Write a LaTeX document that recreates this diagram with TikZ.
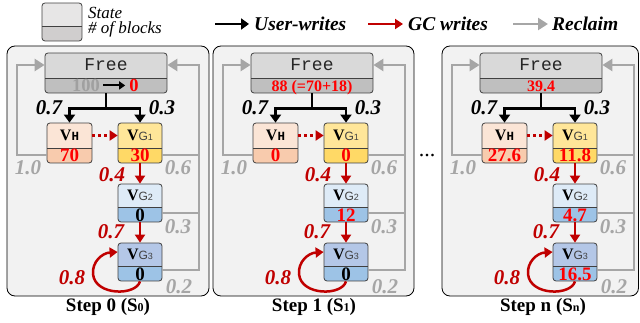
\documentclass[tikz,border=0pt]{standalone}
\usepackage{fontspec}
\setmainfont{Liberation Serif}
\newfontfamily\monof{Liberation Mono}
\newfontfamily\sansf{Liberation Sans}
\usetikzlibrary{arrows.meta}
\definecolor{panelfill}{HTML}{F2F2F2}
\definecolor{boxline}{HTML}{404040}
\definecolor{freeT}{HTML}{D9D9D9}
\definecolor{freeB}{HTML}{BFBFBF}
\definecolor{vhT}{HTML}{FBE5D6}
\definecolor{vhB}{HTML}{F8CBAD}
\definecolor{gaT}{HTML}{FFE699}
\definecolor{gaB}{HTML}{FFD966}
\definecolor{gbT}{HTML}{DEEBF7}
\definecolor{gbB}{HTML}{9DC3E6}
\definecolor{gcT}{HTML}{B4C7E7}
\definecolor{gcB}{HTML}{9DC3E6}
\definecolor{legT}{HTML}{E7E6E6}
\definecolor{legB}{HTML}{D0CECE}
\definecolor{gcred}{HTML}{C00000}
\definecolor{numred}{HTML}{FF0000}
\definecolor{rgray}{HTML}{A6A6A6}
\definecolor{numgray}{HTML}{A0A0A0}
\definecolor{subgray}{HTML}{404040}
\definecolor{freetext}{HTML}{262626}
\newcommand\rd[1]{\textcolor{numred}{#1}}
\newcommand\fs[1]{\fontsize{#1}{#1}\selectfont}
\tikzset{
 bk/.style 2 args={draw=boxline, line width=0.8pt, rounded corners=3pt, inner sep=0pt,
   path picture={
   \fill[#1, sharp corners] (path picture bounding box.south west) rectangle (path picture bounding box.north east);
   \fill[#2, sharp corners] (path picture bounding box.south west) rectangle ([yshift=15pt]path picture bounding box.south east);
   \draw[boxline, line width=0.8pt, sharp corners] ([yshift=15pt]path picture bounding box.south west) -- ([yshift=15pt]path picture bounding box.south east);}},
 panel/.style={draw=black, line width=0.8pt, fill=panelfill, rounded corners=8pt, inner sep=0pt},
 freetxt/.style={font=\monof\fs{18}, text=freetext, inner sep=0pt, anchor=base},
 fnum/.style={font=\bfseries\fs{16}, text=numred, inner sep=0pt, anchor=base},
 num/.style={font=\bfseries\fs{19}, inner sep=0pt, anchor=base},
 vlab/.style={font=\bfseries\fs{16}, inner sep=0pt, anchor=base},
 lbl/.style={font=\bfseries\itshape\fs{21}, inner sep=0pt},
 steplab/.style={font=\bfseries\fs{19}, inner sep=0pt},
 legtxt/.style={font=\itshape\fs{17}, inner sep=0pt, anchor=base west},
 legarr/.style={font=\bfseries\itshape\fs{19.5}, inner sep=0pt, anchor=west},
 uw/.style={draw=black, line width=2.5pt, -{Triangle[length=8pt,width=11pt]}},
 gc/.style={draw=gcred, line width=2.5pt, -{Triangle[length=8pt,width=10pt]}},
 rc/.style={draw=rgray, line width=2.5pt, -{Triangle[length=10pt,width=12pt]}},
 rcl/.style={draw=rgray, line width=2.5pt},
}
\newcommand\stagepanel[8]{%
 \node[panel, minimum width=#8pt, minimum height=250pt] (P#1) at ({7+#8/2},171) {};
 % blocks
 \node[bk={freeT}{freeB}, minimum width=122pt, minimum height=40pt] (F#1) at (106,73) {};
 \node[freetxt] (Ft#1) at ([yshift=-17.5pt]F#1.north) {Free};
 \node[fnum] (Fn#1) at ([yshift=2pt]F#1.south) {#2};
 \node[bk={vhT}{vhB}, minimum width=45pt, minimum height=40pt] (H#1) at (69.5,143) {};
 \node[vlab] (Hl#1) at ([yshift=-17.5pt]H#1.north) {V{\monof\fs{12.5}H}};
 \node[num] (Hn#1) at ([yshift=1.5pt]H#1.south) {#3};
 \node[bk={gaT}{gaB}, minimum width=44pt, minimum height=40pt] (GA#1) at (140,143) {};
 \node[vlab] (GAl#1) at ([yshift=-17.5pt]GA#1.north) {V{\sansf\mdseries\color{subgray}\fs{12}G\fs{9}1}};
 \node[num] (GAn#1) at ([yshift=1.5pt]GA#1.south) {#4};
 \node[bk={gbT}{gbB}, minimum width=44pt, minimum height=38pt] (GB#1) at (140,203) {};
 \node[vlab] (GBl#1) at ([yshift=-17pt]GB#1.north) {V{\sansf\mdseries\color{subgray}\fs{12}G\fs{9}2}};
 \node[num] (GBn#1) at ([yshift=1pt]GB#1.south) {#5};
 \node[bk={gcT}{gcB}, minimum width=44pt, minimum height=38pt] (GC#1) at (140,262) {};
 \node[vlab] (GCl#1) at ([yshift=-17pt]GC#1.north) {V{\sansf\mdseries\color{subgray}\fs{12}G\fs{9}3}};
 \node[num] (GCn#1) at ([yshift=1pt]GC#1.south) {#6};
 % user writes
 \coordinate (B#1) at ([yshift=-15pt]F#1.south);
 \draw[uw] (F#1.south) -- (B#1) -| (H#1.north);
 \draw[uw] (B#1) -| (GA#1.north);
 % gc writes
 \draw[gc, dash pattern=on 3pt off 3pt] ([yshift=7.5pt]H#1.east) -- ([yshift=7.5pt]GA#1.west);
 \draw[gc] (GA#1.south) -- (GB#1.north);
 \draw[gc] (GB#1.south) -- (GC#1.north);
 \draw[gc] (GC#1.south) .. controls (136,296) and (95,296) .. (93,274) .. controls (92,262) and (102,253) .. ([yshift=10pt]GC#1.west);
 % reclaim
 \coordinate (RL#1) at (17,65);
 \coordinate (RR#1) at (199,65);
 \draw[rc] ([yshift=-12pt]H#1.west) -| (RL#1) -- ([yshift=8pt]F#1.west);
 \draw[rc] ([yshift=-12pt]GA#1.east) -| (RR#1) -- ([yshift=8pt]F#1.east);
 \draw[rcl] ([yshift=-10pt]GB#1.east) -| (RR#1);
 \draw[rcl] ([yshift=-8pt]GC#1.east) -| (RR#1);
 % labels
 \node[lbl] (la#1) at (49,108) {0.7};
 \node[lbl] (lb#1) at (162,108) {0.3};
 \node[lbl, text=gcred] (lc#1) at (112,175) {0.4};
 \node[lbl, text=gcred] (ld#1) at (111,232) {0.7};
 \node[lbl, text=gcred] (le#1) at (72,278) {0.8};
 \node[lbl, text=rgray] (lf#1) at (28,168) {1.0};
 \node[lbl, text=rgray] (lg#1) at (178,168) {0.6};
 \node[lbl, text=rgray] (lh#1) at (178,227) {0.3};
 \node[lbl, text=rgray] (li#1) at (179,287) {0.2};
 \node[steplab] (S#1) at (108,307) {#7};
}
\begin{document}
\begin{tikzpicture}[x=1pt,y=-1pt]
\useasboundingbox (0,0) rectangle (640,323);
% legend
\node[bk={legT}{legB}, minimum width=40pt, minimum height=38pt] (L) at (62,22) {};
\node[legtxt] (Ls) at (88,18.5) {State};
\node[legtxt] (Lb) at (88,34) {\# of blocks};
\coordinate (LAa) at (215,24);
\node[legarr] (Luw) at (254,24) {User-writes};
\draw[uw, shorten >=5pt] (LAa) -- (Luw.west);
\coordinate (LAb) at (368,24);
\node[legarr] (Lgc) at (408,24) {GC writes};
\draw[gc, shorten >=5pt] (LAb) -- (Lgc.west);
\coordinate (LAc) at (513,24);
\node[legarr] (Lrc) at (552,24) {Reclaim};
\draw[rc, shorten >=4pt] (LAc) -- (Lrc.west);
% panels
\stagepanel{a}{}{\rd{70}}{\rd{30}}{0}{0}{Step 0 (S{\fs{12}0})}{202}
\node[fnum, text=numgray, font=\bfseries\fs{18.5}] (n100) at (86,91.5) {100};
\node[fnum, font=\bfseries\fs{18.5}] (n0) at (134,91.5) {0};
\draw[line width=2pt, -{Triangle[length=6pt,width=8pt]}, shorten <=3pt, shorten >=4pt] (n100) -- (n0);
\begin{scope}[xshift=206pt]
\stagepanel{b}{88 (=70+18)}{\rd{0}}{\rd{0}}{\rd{12}}{0}{Step 1 (S{\fs{12}1})}{201}
\end{scope}
\node[inner sep=0pt, font=\fs{22}] (dots) at (427,156) {...};
\begin{scope}[xshift=435pt]
\stagepanel{c}{39.4}{\rd{27.6}}{\rd{11.8}}{\rd{4.7}}{\rd{16.5}}{Step n (S{\fs{12}n})}{196.5}
\end{scope}
\end{tikzpicture}
\end{document}
